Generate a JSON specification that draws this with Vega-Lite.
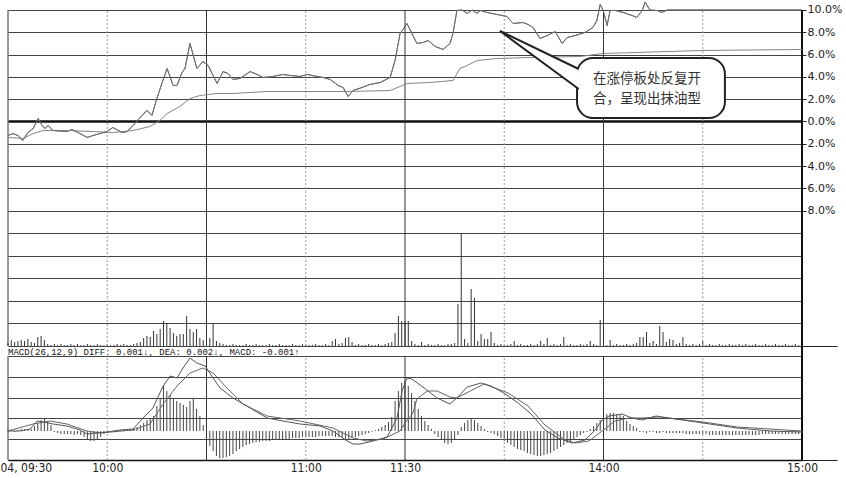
{
"$schema":"https://vega.github.io/schema/vega-lite/v6.json",
"padding":0,
"background":"white",
"spacing":0,
"bounds":"flush",
"config":{"view":{"stroke":null},"axis":{"labelFont":"DejaVu Sans","labelColor":"#222","titleFont":"DejaVu Sans","labelOverlap":false}},
"datasets":{
"vl":[{"m":0,"k":"s"},{"m":30,"k":"d"},{"m":60,"k":"s"},{"m":90,"k":"d"},{"m":120,"k":"s"},{"m":150,"k":"d"},{"m":180,"k":"s"},{"m":210,"k":"d"},{"m":240,"k":"r"}],
"price":[{"m":0,"p":-1.26},{"m":1.5,"p":-1.08},{"m":3,"p":-1.26},{"m":4.5,"p":-1.7},{"m":6,"p":-0.99},{"m":7.6,"p":-0.63},{"m":9.1,"p":0.27},{"m":10.3,"p":-0.36},{"m":11.2,"p":-0.63},{"m":12.1,"p":-0.36},{"m":13.6,"p":-0.81},{"m":17.8,"p":-0.9},{"m":19.3,"p":-0.72},{"m":21.8,"p":-1.08},{"m":23.9,"p":-1.43},{"m":25.7,"p":-1.26},{"m":27.8,"p":-1.08},{"m":29.9,"p":-0.9},{"m":31.7,"p":-0.54},{"m":34.5,"p":-0.99},{"m":36,"p":-0.9},{"m":37.8,"p":-0.36},{"m":40.5,"p":0.54},{"m":42,"p":0.99},{"m":43.5,"p":0.54},{"m":45,"p":2.06},{"m":46.6,"p":3.5},{"m":48.1,"p":4.75},{"m":49.9,"p":3.23},{"m":51.1,"p":3.23},{"m":52.6,"p":4.39},{"m":53.5,"p":4.75},{"m":55,"p":7.0},{"m":57.1,"p":4.75},{"m":58.9,"p":5.38},{"m":60.5,"p":5.02},{"m":63.2,"p":3.41},{"m":65,"p":4.48},{"m":66.5,"p":4.3},{"m":68,"p":3.77},{"m":70.1,"p":3.86},{"m":73.2,"p":4.48},{"m":75.3,"p":4.22},{"m":77.1,"p":3.95},{"m":80.1,"p":4.04},{"m":83.1,"p":4.22},{"m":85.2,"p":4.13},{"m":88.3,"p":4.04},{"m":90.4,"p":4.22},{"m":93.4,"p":4.04},{"m":95.2,"p":3.95},{"m":97.4,"p":3.77},{"m":99.8,"p":3.23},{"m":101.3,"p":3.05},{"m":102.8,"p":2.24},{"m":104.3,"p":2.78},{"m":107,"p":3.05},{"m":109.4,"p":3.32},{"m":112.5,"p":3.5},{"m":115.5,"p":3.95},{"m":117,"p":5.47},{"m":118.5,"p":7.89},{"m":119.4,"p":8.25},{"m":120.6,"p":8.79},{"m":122.1,"p":7.89},{"m":123.6,"p":7.0},{"m":125.5,"p":7.09},{"m":127,"p":7.26},{"m":129.1,"p":6.73},{"m":131.5,"p":6.46},{"m":133.6,"p":7.0},{"m":134.5,"p":7.89},{"m":135.7,"p":9.96},{"m":137.2,"p":10.0},{"m":138.8,"p":9.69},{"m":140.3,"p":10.0},{"m":141.8,"p":9.69},{"m":142.7,"p":9.96},{"m":144.8,"p":9.78},{"m":147.8,"p":9.6},{"m":150.8,"p":9.42},{"m":152.7,"p":8.79},{"m":155.7,"p":8.88},{"m":157.2,"p":8.7},{"m":158.7,"p":8.43},{"m":160.8,"p":7.44},{"m":163,"p":7.71},{"m":165.4,"p":8.07},{"m":167.5,"p":7.0},{"m":169,"p":7.53},{"m":171.4,"p":7.71},{"m":174.4,"p":7.98},{"m":176.8,"p":8.43},{"m":178,"p":9.06},{"m":179,"p":10.5},{"m":179.9,"p":9.96},{"m":181.1,"p":8.61},{"m":182,"p":9.96},{"m":183.5,"p":9.96},{"m":185.9,"p":9.78},{"m":188.6,"p":9.51},{"m":190.1,"p":9.33},{"m":191.7,"p":9.96},{"m":192.6,"p":10.7},{"m":194,"p":10.0},{"m":196.2,"p":9.96},{"m":197.7,"p":9.78},{"m":199.2,"p":10.0},{"m":240,"p":10.0}],
"avg":[{"m":0,"p":-1.43},{"m":4.5,"p":-1.52},{"m":7.6,"p":-1.08},{"m":10.6,"p":-0.81},{"m":17.8,"p":-0.81},{"m":25.7,"p":-0.9},{"m":31.7,"p":-0.99},{"m":37.8,"p":-0.81},{"m":42.9,"p":-0.45},{"m":45.9,"p":0.09},{"m":48.1,"p":0.72},{"m":52,"p":1.35},{"m":55,"p":2.06},{"m":58,"p":2.33},{"m":63.2,"p":2.51},{"m":68,"p":2.51},{"m":78.3,"p":2.69},{"m":92.2,"p":2.69},{"m":102.5,"p":2.69},{"m":115.5,"p":2.78},{"m":118.5,"p":3.14},{"m":120.6,"p":3.41},{"m":127.6,"p":3.5},{"m":134.5,"p":3.68},{"m":136.6,"p":4.75},{"m":138.8,"p":5.02},{"m":141.8,"p":5.47},{"m":147.8,"p":5.65},{"m":157.8,"p":5.74},{"m":172.9,"p":5.83},{"m":179.9,"p":6.1},{"m":210.1,"p":6.37},{"m":240,"p":6.46}],
"bubble":[{"x1":172,"x2":216.7,"y1":5.7,"y2":0.31}],
"pointer":[{"m":172.5,"p":4.71,"o":0},{"m":148.7,"p":8.12,"o":1},{"m":172.5,"p":2.91,"o":2}],
"note":[{"m":176.8,"p":3.8,"t":"在涨停板处反复开"},{"m":176.8,"p":2.0,"t":"合，呈现出抹油型"}],
"vol":[{"m":0,"v":3},{"m":1,"v":6},{"m":2,"v":4},{"m":3,"v":5},{"m":4,"v":6},{"m":5,"v":5},{"m":6,"v":7},{"m":7,"v":4},{"m":8,"v":3},{"m":9,"v":9},{"m":10,"v":10},{"m":11,"v":6},{"m":12,"v":2},{"m":13,"v":1},{"m":14,"v":2},{"m":15,"v":1},{"m":16,"v":2},{"m":17,"v":1},{"m":18,"v":1},{"m":19,"v":2},{"m":20,"v":1},{"m":21,"v":2},{"m":22,"v":1},{"m":23,"v":1},{"m":24,"v":2},{"m":25,"v":1},{"m":26,"v":1},{"m":27,"v":2},{"m":28,"v":1},{"m":29,"v":1},{"m":30,"v":2},{"m":31,"v":1},{"m":32,"v":1},{"m":33,"v":2},{"m":34,"v":1},{"m":35,"v":2},{"m":36,"v":1},{"m":37,"v":1},{"m":38,"v":2},{"m":39,"v":3},{"m":40,"v":4},{"m":41,"v":8},{"m":42,"v":10},{"m":43,"v":9},{"m":44,"v":15},{"m":45,"v":12},{"m":46,"v":17},{"m":47,"v":25},{"m":48,"v":23},{"m":49,"v":18},{"m":50,"v":13},{"m":51,"v":10},{"m":52,"v":12},{"m":53,"v":12},{"m":54,"v":30},{"m":55,"v":17},{"m":56,"v":14},{"m":57,"v":17},{"m":58,"v":8},{"m":59,"v":6},{"m":60,"v":4},{"m":61,"v":8},{"m":62,"v":22},{"m":63,"v":5},{"m":64,"v":3},{"m":65,"v":2},{"m":66,"v":1},{"m":67,"v":1},{"m":68,"v":2},{"m":69,"v":1},{"m":70,"v":1},{"m":71,"v":1},{"m":72,"v":2},{"m":73,"v":1},{"m":74,"v":1},{"m":75,"v":2},{"m":76,"v":1},{"m":77,"v":1},{"m":78,"v":1},{"m":79,"v":2},{"m":80,"v":1},{"m":81,"v":1},{"m":82,"v":2},{"m":83,"v":1},{"m":84,"v":1},{"m":85,"v":1},{"m":86,"v":2},{"m":87,"v":1},{"m":88,"v":1},{"m":89,"v":2},{"m":90,"v":1},{"m":91,"v":1},{"m":92,"v":1},{"m":93,"v":2},{"m":94,"v":1},{"m":95,"v":1},{"m":96,"v":2},{"m":97,"v":1},{"m":98,"v":5},{"m":99,"v":7},{"m":100,"v":2},{"m":101,"v":3},{"m":102,"v":8},{"m":103,"v":9},{"m":104,"v":4},{"m":105,"v":1},{"m":106,"v":2},{"m":107,"v":1},{"m":108,"v":1},{"m":109,"v":2},{"m":110,"v":1},{"m":111,"v":1},{"m":112,"v":2},{"m":113,"v":1},{"m":114,"v":2},{"m":115,"v":3},{"m":116,"v":4},{"m":117,"v":13},{"m":118,"v":30},{"m":119,"v":25},{"m":120,"v":25},{"m":121,"v":25},{"m":122,"v":5},{"m":123,"v":2},{"m":124,"v":1},{"m":125,"v":4},{"m":126,"v":1},{"m":127,"v":2},{"m":128,"v":1},{"m":129,"v":1},{"m":130,"v":2},{"m":131,"v":1},{"m":132,"v":1},{"m":133,"v":2},{"m":134,"v":2},{"m":135,"v":3},{"m":136,"v":42},{"m":137,"v":113},{"m":138,"v":7},{"m":139,"v":3},{"m":140,"v":57},{"m":141,"v":48},{"m":142,"v":5},{"m":143,"v":12},{"m":144,"v":7},{"m":145,"v":7},{"m":146,"v":14},{"m":147,"v":3},{"m":148,"v":1},{"m":149,"v":2},{"m":150,"v":1},{"m":151,"v":1},{"m":152,"v":2},{"m":153,"v":5},{"m":154,"v":1},{"m":155,"v":2},{"m":156,"v":1},{"m":157,"v":1},{"m":158,"v":2},{"m":159,"v":1},{"m":160,"v":2},{"m":161,"v":5},{"m":162,"v":2},{"m":163,"v":8},{"m":164,"v":1},{"m":165,"v":2},{"m":166,"v":1},{"m":167,"v":2},{"m":168,"v":9},{"m":169,"v":1},{"m":170,"v":2},{"m":171,"v":1},{"m":172,"v":1},{"m":173,"v":2},{"m":174,"v":1},{"m":175,"v":2},{"m":176,"v":5},{"m":177,"v":2},{"m":178,"v":1},{"m":179,"v":26},{"m":180,"v":2},{"m":181,"v":1},{"m":182,"v":6},{"m":183,"v":1},{"m":184,"v":2},{"m":185,"v":1},{"m":186,"v":1},{"m":187,"v":2},{"m":188,"v":1},{"m":189,"v":2},{"m":190,"v":3},{"m":191,"v":9},{"m":192,"v":9},{"m":193,"v":14},{"m":194,"v":3},{"m":195,"v":5},{"m":196,"v":2},{"m":197,"v":20},{"m":198,"v":14},{"m":199,"v":4},{"m":200,"v":7},{"m":201,"v":6},{"m":202,"v":2},{"m":203,"v":3},{"m":204,"v":9},{"m":205,"v":2},{"m":206,"v":1},{"m":207,"v":2},{"m":208,"v":1},{"m":209,"v":2},{"m":210,"v":5},{"m":211,"v":1},{"m":212,"v":2},{"m":213,"v":1},{"m":214,"v":1},{"m":215,"v":2},{"m":216,"v":1},{"m":217,"v":1},{"m":218,"v":2},{"m":219,"v":1},{"m":220,"v":1},{"m":221,"v":2},{"m":222,"v":1},{"m":223,"v":2},{"m":224,"v":1},{"m":225,"v":1},{"m":226,"v":2},{"m":227,"v":1},{"m":228,"v":1},{"m":229,"v":2},{"m":230,"v":1},{"m":231,"v":1},{"m":232,"v":2},{"m":233,"v":1},{"m":234,"v":1},{"m":235,"v":2},{"m":236,"v":1},{"m":237,"v":1},{"m":238,"v":2},{"m":239,"v":1}],
"macdtext":[{"m":0,"v":-5.5,"t":"MACD(26,12,9) DIFF: 0.001↓, DEA: 0.002↓, MACD: -0.001↑"}],
"hist":[{"m":0,"h":1},{"m":1,"h":1},{"m":2,"h":-1},{"m":3,"h":1},{"m":4,"h":2},{"m":5,"h":2},{"m":6,"h":1},{"m":7,"h":2},{"m":8,"h":5},{"m":9,"h":8},{"m":10,"h":11},{"m":11,"h":12},{"m":12,"h":10},{"m":13,"h":6},{"m":14,"h":-1},{"m":15,"h":-2},{"m":16,"h":-3},{"m":17,"h":-3},{"m":18,"h":-3},{"m":19,"h":-3},{"m":20,"h":-4},{"m":21,"h":-3},{"m":22,"h":-4},{"m":23,"h":-6},{"m":24,"h":-8},{"m":25,"h":-10},{"m":26,"h":-10},{"m":27,"h":-8},{"m":28,"h":-6},{"m":29,"h":-3},{"m":30,"h":-2},{"m":31,"h":-1},{"m":32,"h":0.5},{"m":33,"h":1},{"m":34,"h":1},{"m":35,"h":2},{"m":36,"h":1},{"m":37,"h":2},{"m":38,"h":3},{"m":39,"h":4},{"m":40,"h":6},{"m":41,"h":8},{"m":42,"h":11},{"m":43,"h":13},{"m":44,"h":15},{"m":45,"h":25},{"m":46,"h":33},{"m":47,"h":45},{"m":48,"h":40},{"m":49,"h":36},{"m":50,"h":32},{"m":51,"h":30},{"m":52,"h":28},{"m":53,"h":26},{"m":54,"h":24},{"m":55,"h":30},{"m":56,"h":33},{"m":57,"h":22},{"m":58,"h":15},{"m":59,"h":6},{"m":60,"h":2},{"m":61,"h":-15},{"m":62,"h":-20},{"m":63,"h":-25},{"m":64,"h":-27},{"m":65,"h":-27},{"m":66,"h":-26},{"m":67,"h":-25},{"m":68,"h":-23},{"m":69,"h":-20},{"m":70,"h":-18},{"m":71,"h":-16},{"m":72,"h":-14},{"m":73,"h":-13},{"m":74,"h":-12},{"m":75,"h":-11},{"m":76,"h":-11},{"m":77,"h":-10},{"m":78,"h":-10},{"m":79,"h":-10},{"m":80,"h":-9},{"m":81,"h":-9},{"m":82,"h":-9},{"m":83,"h":-8},{"m":84,"h":-8},{"m":85,"h":-8},{"m":86,"h":-7},{"m":87,"h":-7},{"m":88,"h":-7},{"m":89,"h":-6},{"m":90,"h":-6},{"m":91,"h":-6},{"m":92,"h":-6},{"m":93,"h":-6},{"m":94,"h":-5},{"m":95,"h":-5},{"m":96,"h":-5},{"m":97,"h":-5},{"m":98,"h":-5},{"m":99,"h":-6},{"m":100,"h":-6},{"m":101,"h":-7},{"m":102,"h":-8},{"m":103,"h":-8},{"m":104,"h":-7},{"m":105,"h":-6},{"m":106,"h":-5},{"m":107,"h":-4},{"m":108,"h":-3},{"m":109,"h":-2},{"m":110,"h":-1},{"m":111,"h":1},{"m":112,"h":2},{"m":113,"h":4},{"m":114,"h":6},{"m":115,"h":9},{"m":116,"h":14},{"m":117,"h":30},{"m":118,"h":40},{"m":119,"h":48},{"m":120,"h":50},{"m":121,"h":45},{"m":122,"h":38},{"m":123,"h":30},{"m":124,"h":22},{"m":125,"h":15},{"m":126,"h":10},{"m":127,"h":6},{"m":128,"h":2},{"m":129,"h":-3},{"m":130,"h":-6},{"m":131,"h":-9},{"m":132,"h":-12},{"m":133,"h":-13},{"m":134,"h":-12},{"m":135,"h":-8},{"m":136,"h":-4},{"m":137,"h":4},{"m":138,"h":8},{"m":139,"h":11},{"m":140,"h":12},{"m":141,"h":11},{"m":142,"h":8},{"m":143,"h":5},{"m":144,"h":2},{"m":145,"h":-1},{"m":146,"h":-2},{"m":147,"h":-3},{"m":148,"h":-5},{"m":149,"h":-7},{"m":150,"h":-10},{"m":151,"h":-12},{"m":152,"h":-14},{"m":153,"h":-16},{"m":154,"h":-18},{"m":155,"h":-19},{"m":156,"h":-20},{"m":157,"h":-22},{"m":158,"h":-23},{"m":159,"h":-24},{"m":160,"h":-25},{"m":161,"h":-25},{"m":162,"h":-24},{"m":163,"h":-23},{"m":164,"h":-22},{"m":165,"h":-20},{"m":166,"h":-18},{"m":167,"h":-16},{"m":168,"h":-14},{"m":169,"h":-12},{"m":170,"h":-10},{"m":171,"h":-8},{"m":172,"h":-6},{"m":173,"h":-4},{"m":174,"h":-2},{"m":175,"h":-1},{"m":176,"h":2},{"m":177,"h":5},{"m":178,"h":8},{"m":179,"h":11},{"m":180,"h":14},{"m":181,"h":17},{"m":182,"h":18},{"m":183,"h":18},{"m":184,"h":17},{"m":185,"h":16},{"m":186,"h":15},{"m":187,"h":10},{"m":188,"h":7},{"m":189,"h":5},{"m":190,"h":3},{"m":191,"h":-1},{"m":192,"h":-1},{"m":193,"h":-2},{"m":194,"h":-1},{"m":195,"h":-1},{"m":196,"h":-2},{"m":197,"h":-2},{"m":198,"h":-1},{"m":199,"h":-2},{"m":200,"h":-2},{"m":201,"h":-2},{"m":202,"h":-2},{"m":203,"h":-2},{"m":204,"h":-2},{"m":205,"h":-3},{"m":206,"h":-3},{"m":207,"h":-3},{"m":208,"h":-3},{"m":209,"h":-3},{"m":210,"h":-3},{"m":211,"h":-3},{"m":212,"h":-4},{"m":213,"h":-4},{"m":214,"h":-4},{"m":215,"h":-4},{"m":216,"h":-4},{"m":217,"h":-4},{"m":218,"h":-4},{"m":219,"h":-4},{"m":220,"h":-4},{"m":221,"h":-4},{"m":222,"h":-4},{"m":223,"h":-4},{"m":224,"h":-4},{"m":225,"h":-4},{"m":226,"h":-4},{"m":227,"h":-4},{"m":228,"h":-3},{"m":229,"h":-3},{"m":230,"h":-3},{"m":231,"h":-3},{"m":232,"h":-3},{"m":233,"h":-3},{"m":234,"h":-3},{"m":235,"h":-3},{"m":236,"h":-3},{"m":237,"h":-3},{"m":238,"h":-3},{"m":239,"h":-3}],
"diff":[{"m":0,"d":0},{"m":3.6,"d":0},{"m":6.7,"d":2},{"m":8.8,"d":10},{"m":10.6,"d":9},{"m":13.6,"d":7},{"m":17.8,"d":5},{"m":21.8,"d":1},{"m":23.9,"d":-3},{"m":26.9,"d":-2},{"m":29.9,"d":-1},{"m":33.9,"d":1},{"m":37.8,"d":2},{"m":40.8,"d":13},{"m":43.8,"d":23},{"m":46.9,"d":45},{"m":49,"d":55},{"m":51.1,"d":53},{"m":52.9,"d":63},{"m":55,"d":73},{"m":57.1,"d":68},{"m":59.6,"d":65},{"m":62,"d":53},{"m":64.1,"d":43},{"m":68,"d":33},{"m":73.2,"d":23},{"m":78.3,"d":13},{"m":83.1,"d":10},{"m":88.3,"d":7},{"m":94.3,"d":5},{"m":98.2,"d":0},{"m":102.5,"d":-10},{"m":104.3,"d":-13},{"m":106.4,"d":-13},{"m":110.3,"d":-10},{"m":114.6,"d":-6},{"m":117.6,"d":13},{"m":119.1,"d":40},{"m":120.6,"d":53},{"m":122.1,"d":52},{"m":125.8,"d":43},{"m":129.7,"d":33},{"m":133.6,"d":27},{"m":135.7,"d":33},{"m":138.8,"d":44},{"m":143,"d":48},{"m":146,"d":45},{"m":149.9,"d":38},{"m":154.2,"d":28},{"m":158.1,"d":17},{"m":162.3,"d":1},{"m":166.3,"d":-7},{"m":170.5,"d":-12},{"m":174.4,"d":-9},{"m":177.5,"d":1},{"m":179.6,"d":11},{"m":181.7,"d":15},{"m":185.6,"d":17},{"m":188.6,"d":13},{"m":191.7,"d":11},{"m":195.9,"d":15},{"m":199.8,"d":13},{"m":210.1,"d":8},{"m":220.4,"d":3},{"m":230.4,"d":0},{"m":240,"d":-1}],
"dea":[{"m":0,"d":0},{"m":7.6,"d":7},{"m":12.7,"d":10},{"m":17.8,"d":7},{"m":23.9,"d":0},{"m":27.8,"d":-2},{"m":37.8,"d":1},{"m":42.9,"d":7},{"m":46.9,"d":27},{"m":51.1,"d":45},{"m":55,"d":58},{"m":58.9,"d":63},{"m":62,"d":58},{"m":66.2,"d":43},{"m":71,"d":27},{"m":78.3,"d":15},{"m":88.3,"d":10},{"m":98.2,"d":3},{"m":104.3,"d":-7},{"m":108.5,"d":-10},{"m":113.4,"d":-8},{"m":118.5,"d":0},{"m":120,"d":8},{"m":122.4,"d":18},{"m":123.6,"d":32},{"m":126.7,"d":40},{"m":129.7,"d":40},{"m":133.6,"d":34},{"m":135.7,"d":33},{"m":139.7,"d":40},{"m":143.9,"d":47},{"m":151.2,"d":38},{"m":157.2,"d":25},{"m":162.3,"d":6},{"m":168.4,"d":-9},{"m":171.4,"d":-12},{"m":175.6,"d":-10},{"m":179.6,"d":0},{"m":183.5,"d":10},{"m":187.7,"d":13},{"m":191.7,"d":13},{"m":196.8,"d":14},{"m":210.1,"d":9},{"m":220.4,"d":4},{"m":240,"d":0}]
},
"vconcat":[
{"width":794,"height":232,
 "layer":[
  {"data":{"name":"price"},"mark":{"type":"line","color":"#6e6e6e","strokeWidth":1},
   "encoding":{"x":{"field":"m","type":"quantitative","scale":{"domain":[0,240],"nice":false,"zero":false},"axis":null},
    "y":{"field":"p","type":"quantitative","scale":{"domain":[-10,10.807],"nice":false,"zero":false},
     "axis":{"orient":"right","title":null,"values":[-8,-6,-4,-2,0,2,4,6,8,10],"tickCount":30,"labelExpr":"format(abs(datum.value),'.1f')+'%'","grid":true,"gridColor":{"condition":{"test":"datum.value===0","value":"#111"},"value":"#444"},"gridWidth":{"condition":{"test":"datum.value===0","value":2.5},"value":1},"domain":false,"ticks":true,"tickSize":4,"tickColor":"#222","labelPadding":1,"labelFontSize":11,"labelOverlap":false}}}},
  {"data":{"name":"vl"},"transform":[{"filter":"datum.k==='s'"}],"mark":{"type":"rule","color":"#333","strokeWidth":1},
   "encoding":{"x":{"field":"m","type":"quantitative","axis":null},"y":{"datum":-10},"y2":{"datum":10}}},
  {"data":{"name":"vl"},"transform":[{"filter":"datum.k==='d'"}],"mark":{"type":"rule","color":"#999","strokeWidth":1,"strokeDash":[2,2]},
   "encoding":{"x":{"field":"m","type":"quantitative","axis":null},"y":{"datum":-10},"y2":{"datum":10}}},
  {"data":{"name":"vl"},"transform":[{"filter":"datum.k==='r'"}],"mark":{"type":"rule","color":"#111","strokeWidth":2},
   "encoding":{"x":{"field":"m","type":"quantitative","axis":null},"y":{"datum":-10},"y2":{"datum":10}}},
  {"data":{"name":"avg"},"mark":{"type":"line","color":"#858585","strokeWidth":1},
   "encoding":{"x":{"field":"m","type":"quantitative","axis":null},"y":{"field":"p","type":"quantitative"}}},
  {"data":{"name":"price"},"mark":{"type":"line","color":"#6e6e6e","strokeWidth":1},
   "encoding":{"x":{"field":"m","type":"quantitative","axis":null},"y":{"field":"p","type":"quantitative"}}},
  {"data":{"name":"bubble"},"mark":{"type":"rect","fill":"white","stroke":"#222","strokeWidth":2,"cornerRadius":16},
   "encoding":{"x":{"field":"x1","type":"quantitative","axis":null},"x2":{"field":"x2"},"y":{"field":"y1","type":"quantitative"},"y2":{"field":"y2"}}},
  {"data":{"name":"pointer"},"mark":{"type":"line","fill":"white","stroke":"#222","strokeWidth":2,"strokeJoin":"miter"},
   "encoding":{"x":{"field":"m","type":"quantitative","axis":null},"y":{"field":"p","type":"quantitative"},"order":{"field":"o"}}},
  {"data":{"name":"note"},"mark":{"type":"text","align":"left","baseline":"middle","font":"Noto Sans CJK SC","fontSize":13.5,"color":"#333"},
   "encoding":{"x":{"field":"m","type":"quantitative","axis":null},"y":{"field":"p","type":"quantitative"},"text":{"field":"t"}}}
 ]},
{"width":794,"height":123,
 "layer":[
  {"data":{"name":"vol"},"mark":{"type":"rule","color":"#333","strokeWidth":1},
   "encoding":{"x":{"field":"m","type":"quantitative","scale":{"domain":[0,240],"nice":false,"zero":false},"axis":null},
    "y":{"field":"v","type":"quantitative","scale":{"domain":[-10,113],"nice":false,"zero":false},
     "axis":{"orient":"right","title":null,"values":[0,22.6,45.2,67.8,90.4,113],"tickCount":30,"labels":false,"grid":true,"gridColor":"#444","domain":false,"tickSize":35,"tickColor":"#222","tickOpacity":{"condition":{"test":"datum.value===0","value":1},"value":0}}},
    "y2":{"datum":0}}},
  {"data":{"name":"vl"},"transform":[{"filter":"datum.k==='s'"}],"mark":{"type":"rule","color":"#333","strokeWidth":1},
   "encoding":{"x":{"field":"m","type":"quantitative","axis":null},"y":{"datum":0},"y2":{"datum":113}}},
  {"data":{"name":"vl"},"transform":[{"filter":"datum.k==='d'"}],"mark":{"type":"rule","color":"#999","strokeWidth":1,"strokeDash":[2,2]},
   "encoding":{"x":{"field":"m","type":"quantitative","axis":null},"y":{"datum":0},"y2":{"datum":113}}},
  {"data":{"name":"vl"},"transform":[{"filter":"datum.k==='r'"}],"mark":{"type":"rule","color":"#111","strokeWidth":2},
   "encoding":{"x":{"field":"m","type":"quantitative","axis":null},"y":{"datum":-10},"y2":{"datum":113}}},
  {"data":{"name":"macdtext"},"mark":{"type":"text","align":"left","baseline":"middle","font":"Liberation Mono","fontSize":9,"color":"#111"},
   "encoding":{"x":{"field":"m","type":"quantitative","axis":null},"y":{"field":"v","type":"quantitative"},"text":{"field":"t"}}}
 ]},
{"width":794,"height":104,
 "layer":[
  {"data":{"name":"hist"},"mark":{"type":"rule","color":"#444","strokeWidth":1},
   "encoding":{"x":{"field":"m","type":"quantitative","scale":{"domain":[0,240],"nice":false,"zero":false},
     "axis":{"orient":"bottom","title":null,"values":[0,30,90,120,180,240],"tickCount":30,"labelExpr":"datum.value==0?'04, 09:30':datum.value==30?'10:00':datum.value==90?'11:00':datum.value==120?'11:30':datum.value==180?'14:00':'15:00'","labelAlign":{"condition":{"test":"datum.value===0","value":"left"},"value":"center"},"labelOffset":{"condition":{"test":"datum.value===0","value":-8},"value":0},"labelOverlap":false,"grid":false,"ticks":false,"domain":true,"domainColor":"#111","domainWidth":1.5,"labelFont":"DejaVu Sans Condensed","labelFontSize":12,"labelPadding":2}},
    "y":{"field":"h","type":"quantitative","scale":{"domain":[-29,75],"nice":false,"zero":false},
     "axis":{"orient":"right","title":null,"values":[-29,-8.2,12.6,33.4,54.2,75],"tickCount":30,"labels":false,"grid":true,"gridColor":"#444","domain":false,"tickSize":35,"tickColor":"#222","tickOpacity":{"condition":{"test":"datum.value===-29","value":1},"value":0}}},
    "y2":{"datum":0}}},
  {"data":{"name":"vl"},"transform":[{"filter":"datum.k==='s'"}],"mark":{"type":"rule","color":"#333","strokeWidth":1},
   "encoding":{"x":{"field":"m","type":"quantitative"},"y":{"datum":-29},"y2":{"datum":75}}},
  {"data":{"name":"vl"},"transform":[{"filter":"datum.k==='d'"}],"mark":{"type":"rule","color":"#999","strokeWidth":1,"strokeDash":[2,2]},
   "encoding":{"x":{"field":"m","type":"quantitative"},"y":{"datum":-29},"y2":{"datum":75}}},
  {"data":{"name":"vl"},"transform":[{"filter":"datum.k==='r'"}],"mark":{"type":"rule","color":"#111","strokeWidth":2},
   "encoding":{"x":{"field":"m","type":"quantitative"},"y":{"datum":-29},"y2":{"datum":75}}},
  {"data":{"name":"dea"},"mark":{"type":"line","color":"#666","strokeWidth":1},
   "encoding":{"x":{"field":"m","type":"quantitative"},"y":{"field":"d","type":"quantitative"}}},
  {"data":{"name":"diff"},"mark":{"type":"line","color":"#555","strokeWidth":1},
   "encoding":{"x":{"field":"m","type":"quantitative"},"y":{"field":"d","type":"quantitative"}}}
 ]}
]
}
